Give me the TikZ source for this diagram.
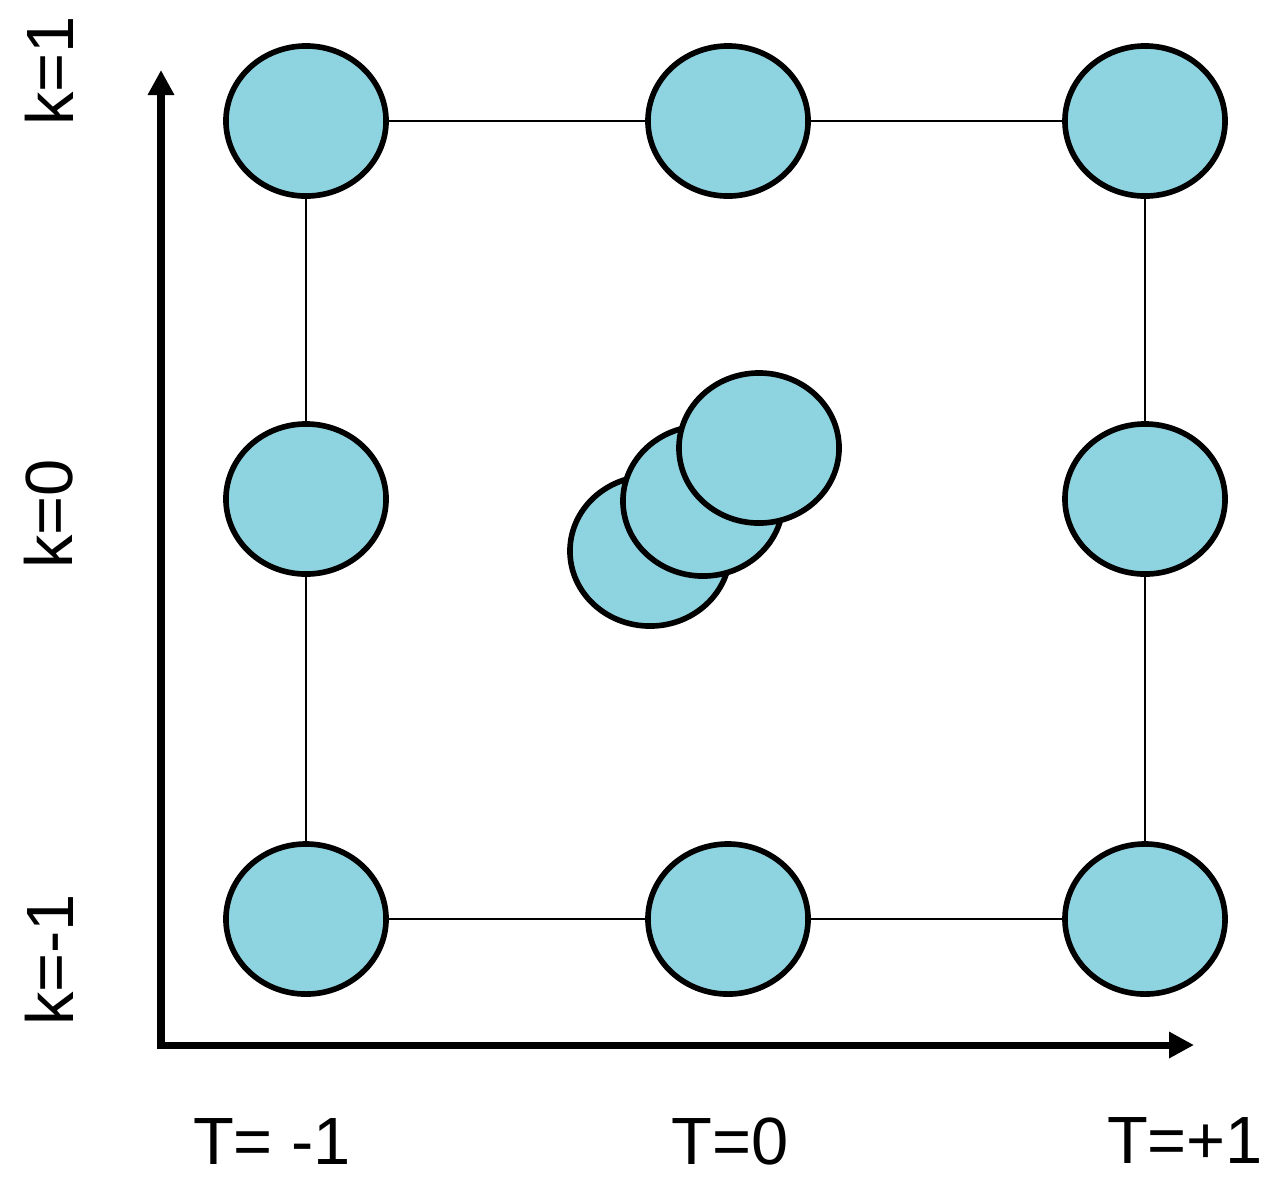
\documentclass[tikz,border=0pt]{standalone}
\usepackage{fontspec}
\setmainfont{Liberation Sans}
\usetikzlibrary{shapes.geometric,arrows.meta}
\definecolor{ballfill}{RGB}{142,212,224}
\begin{document}
\begin{tikzpicture}[x=0.01cm, y=-0.01cm,
    ball/.style={ellipse, draw, line width=1.6pt, fill=ballfill, minimum width=1.60cm, minimum height=1.50cm, inner sep=0pt},
    link/.style={line width=0.5pt},
    axis/.style={line width=2pt, {Triangle[length=0.25cm,width=0.25cm]}-{Triangle[length=0.25cm,width=0.25cm]}},
    lbl/.style={inner sep=0pt, font=\fontsize{19}{23}\selectfont}
]
    \useasboundingbox (0,0) rectangle (1280,1181);

    % Axes
    \coordinate (ytip) at (161,70);
    \coordinate (xtip) at (1194,1045);
    \draw[axis] (ytip) |- (xtip);

    % Row 1: k=1
    \node[ball] (tl) at (306,121) {};
    \node[ball] (tm) at (728,121) {};
    \node[ball] (tr) at (1145,121) {};

    % Row 2: k=0
    \node[ball] (ml) at (306,499) {};
    \node[ball] (mr) at (1145,499) {};

    % Row 3: k=-1
    \node[ball] (bl) at (306,919) {};
    \node[ball] (bm) at (728,919) {};
    \node[ball] (br) at (1145,919) {};

    % Middle cluster
    \node[ball] (ca) at (650,551) {};
    \node[ball] (cb) at (703,501) {};
    \node[ball] (cc) at (759,448) {};

    % Links round the square
    \draw[link] (tl) -- (tm);
    \draw[link] (tm) -- (tr);
    \draw[link] (bl) -- (bm);
    \draw[link] (bm) -- (br);
    \draw[link] (tl) -- (ml);
    \draw[link] (ml) -- (bl);
    \draw[link] (tr) -- (mr);
    \draw[link] (mr) -- (br);

    % Labels
    \node[lbl, rotate=90] (k1) at (49,71) {k=1};
    \node[lbl, rotate=90] (k0) at (49,514) {k=0};
    \node[lbl, rotate=90] (km) at (49,960) {k=-1};
    \node[lbl] (tm1) at (272,1141) {T= -1};
    \node[lbl] (t0) at (730,1141) {T=0};
    \node[lbl] (tp1) at (1185,1140) {T=+1};
\end{tikzpicture}
\end{document}
